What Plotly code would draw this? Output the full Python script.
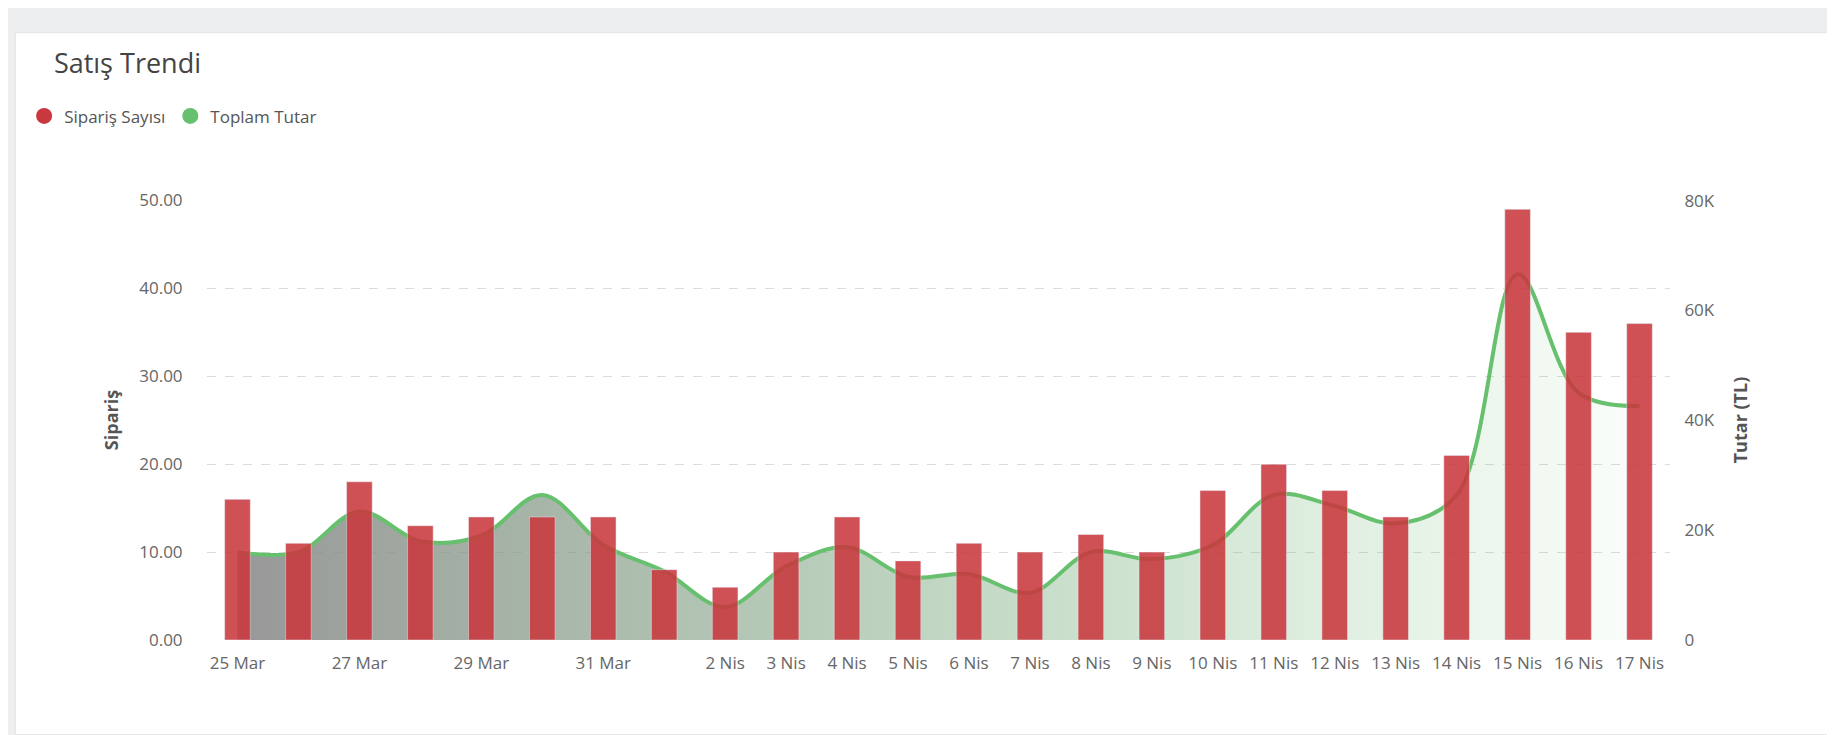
import plotly.graph_objects as go

dates = ["25 Mar", "26 Mar", "27 Mar", "28 Mar", "29 Mar", "30 Mar", "31 Mar", "1 Nis",
         "2 Nis", "3 Nis", "4 Nis", "5 Nis", "6 Nis", "7 Nis", "8 Nis", "9 Nis",
         "10 Nis", "11 Nis", "12 Nis", "13 Nis", "14 Nis", "15 Nis", "16 Nis", "17 Nis"]
siparis = [16, 11, 18, 13, 14, 14, 14, 8, 6, 10, 14, 9, 11, 10, 12, 10, 17, 20, 17, 14, 21, 49, 35, 36]
tutar = [16000, 16000, 23400, 18000, 19000, 26400, 17300, 12500, 6000, 13400, 16900, 11500,
         12000, 8600, 16000, 14700, 17300, 26400, 24400, 21200, 26400, 66600, 45000, 42600]
shown_ticks = ["25 Mar", "27 Mar", "29 Mar", "31 Mar", "2 Nis", "3 Nis", "4 Nis", "5 Nis",
               "6 Nis", "7 Nis", "8 Nis", "9 Nis", "10 Nis", "11 Nis", "12 Nis", "13 Nis",
               "14 Nis", "15 Nis", "16 Nis", "17 Nis"]
left_ticks = [0, 10, 20, 30, 40, 50]
right_ticks = [0, 20000, 40000, 60000, 80000]
right_text = ["0", "20K", "40K", "60K", "80K"]

red = "#c9383e"
green = "#66c06e"
font = "Open Sans"

fig = go.Figure()
fig.add_trace(go.Scatter(
    x=dates, y=tutar, yaxis="y", mode="lines", name="Toplam Tutar",
    line=dict(color=green, width=4, shape="spline", smoothing=1),
    fill="tozeroy",
    fillgradient=dict(type="horizontal",
                      colorscale=[[0, "rgba(140,140,140,0.9)"], [1, "rgba(102,192,110,0.03)"]]),
    showlegend=False))
fig.add_trace(go.Bar(
    x=dates, y=siparis, yaxis="y2", name="Sipariş Sayısı",
    marker=dict(color=red, opacity=0.88), width=0.42, showlegend=False))
# legend entries with round markers
fig.add_trace(go.Scatter(x=[None], y=[None], mode="markers", name="Sipariş Sayısı",
                         marker=dict(color=red, size=16, symbol="circle")))
fig.add_trace(go.Scatter(x=[None], y=[None], mode="markers", name="Toplam Tutar",
                         marker=dict(color=green, size=16, symbol="circle")))

fig.update_layout(
    width=1835, height=735,
    paper_bgcolor="#eceef0", plot_bgcolor="rgba(0,0,0,0)",
    margin=dict(l=199, r=173, t=192, b=103),
    font=dict(family=font, size=17, color="#666"),
    title=dict(text="Satış Trendi", x=0.025, xanchor="left", y=0.925, yanchor="middle",
               font=dict(size=27, color="#444", family=font)),
    legend=dict(orientation="h", x=-0.125, xanchor="left", y=1.19, yanchor="middle",
                bgcolor="rgba(0,0,0,0)", font=dict(size=17, color="#555"),
                itemwidth=30, tracegroupgap=0),
    xaxis=dict(type="category", tickmode="array", tickvals=shown_ticks, ticktext=shown_ticks,
               showgrid=False, showline=False, ticks="outside", ticklen=8, tickcolor="rgba(0,0,0,0)",
               tickfont=dict(size=17, color="#666")),
    yaxis=dict(side="right", range=[0, 80100], tickvals=right_ticks, ticktext=right_text,
               showgrid=False, zeroline=False, ticklen=10, ticks="outside", tickcolor="rgba(0,0,0,0)",
               title=dict(text="<b>Tutar (TL)</b>", font=dict(size=18, color="#555"), standoff=20)),
    yaxis2=dict(side="left", overlaying="y", range=[0, 50.06], tickvals=left_ticks,
                tickformat=".2f", showgrid=True, gridcolor="#dcdcdc", griddash="dash",
                zeroline=False, ticks="outside", ticklen=20, tickcolor="rgba(0,0,0,0)",
                title=dict(text="<b>Sipariş</b>", font=dict(size=18, color="#555"), standoff=15)),
    shapes=[dict(type="rect", xref="paper", yref="paper", layer="below",
                 x0=-0.131, x1=1.11, y0=-0.215, y1=1.38,
                 fillcolor="white", line=dict(color="#e4e4e4", width=1))],
)
fig.write_html("out.html")
